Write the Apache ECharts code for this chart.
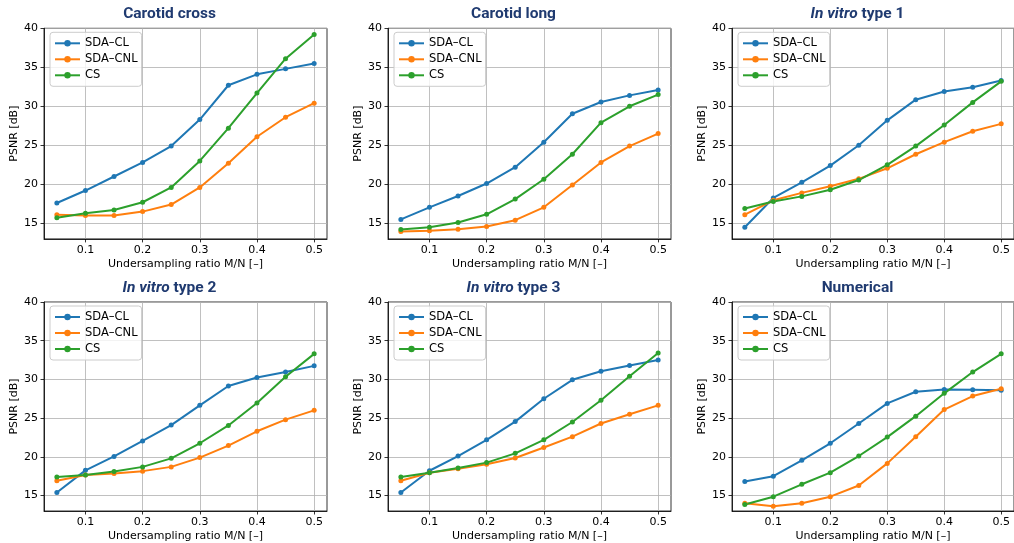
<!DOCTYPE html>
<html><head><meta charset="utf-8">
<script src="https://cdn.jsdelivr.net/npm/echarts@6/dist/echarts.min.js"></script>
<style>html,body{margin:0;padding:0;background:#fff}#c{width:1014px;height:543px}</style>
</head><body><div id="c"></div>
<script>
// ---- data ----
const ratios = [0.05, 0.1, 0.15, 0.2, 0.25, 0.3, 0.35, 0.4, 0.45, 0.5];
const seriesNames = ['SDA–CL', 'SDA–CNL', 'CS'];
const seriesColors = ['#1f77b4', '#ff7f0e', '#2ca02c'];
const xTicks = [0.1, 0.2, 0.3, 0.4, 0.5];
const yTicks = [15, 20, 25, 30, 35, 40];
const xAxisName = 'Undersampling ratio M/N [–]';
const yAxisName = 'PSNR [dB]';

const carotidCrossCL  = [17.6, 19.2, 21.0, 22.8, 24.9, 28.3, 32.7, 34.1, 34.8, 35.5];
const carotidCrossCNL = [16.1, 16.0, 16.0, 16.5, 17.4, 19.6, 22.7, 26.1, 28.6, 30.4];
const carotidCrossCS  = [15.7, 16.3, 16.7, 17.7, 19.6, 23.0, 27.2, 31.7, 36.1, 39.2];

const carotidLongCL  = [15.5, 17.05, 18.5, 20.1, 22.2, 25.4, 29.05, 30.55, 31.4, 32.1];
const carotidLongCNL = [13.95, 14.05, 14.25, 14.6, 15.4, 17.05, 19.9, 22.8, 24.9, 26.5];
const carotidLongCS  = [14.2, 14.5, 15.1, 16.15, 18.1, 20.65, 23.85, 27.9, 30.0, 31.5];

const vitro1CL  = [14.5, 18.25, 20.25, 22.4, 25.0, 28.2, 30.85, 31.9, 32.45, 33.3];
const vitro1CNL = [16.1, 17.95, 18.9, 19.75, 20.7, 22.05, 23.85, 25.4, 26.8, 27.75];
const vitro1CS  = [16.9, 17.8, 18.45, 19.3, 20.55, 22.5, 24.9, 27.6, 30.5, 33.2];

const vitro2CL  = [15.4, 18.25, 20.05, 22.05, 24.1, 26.65, 29.15, 30.25, 30.95, 31.75];
const vitro2CNL = [16.9, 17.65, 17.85, 18.15, 18.7, 19.9, 21.45, 23.3, 24.8, 26.0];
const vitro2CS  = [17.4, 17.65, 18.1, 18.7, 19.8, 21.75, 24.05, 26.95, 30.35, 33.3];

const vitro3CL  = [15.4, 18.2, 20.1, 22.2, 24.55, 27.5, 29.95, 31.05, 31.8, 32.5];
const vitro3CNL = [16.9, 17.95, 18.45, 19.05, 19.85, 21.2, 22.6, 24.3, 25.5, 26.65];
const vitro3CS  = [17.4, 17.95, 18.55, 19.25, 20.45, 22.2, 24.5, 27.3, 30.4, 33.4];

const numericalCL  = [16.8, 17.5, 19.55, 21.75, 24.3, 26.9, 28.4, 28.7, 28.65, 28.6];
const numericalCNL = [14.0, 13.6, 14.0, 14.85, 16.3, 19.15, 22.6, 26.1, 27.85, 28.8];
const numericalCS  = [13.85, 14.85, 16.45, 17.95, 20.1, 22.55, 25.25, 28.2, 30.95, 33.3];

const panelTitles = [
  {plain: 'Carotid cross'},
  {plain: 'Carotid long'},
  {italic: 'In vitro', plain: ' type 1'},
  {italic: 'In vitro', plain: ' type 2'},
  {italic: 'In vitro', plain: ' type 3'},
  {plain: 'Numerical'}
];
const panelData = [
  [carotidCrossCL, carotidCrossCNL, carotidCrossCS],
  [carotidLongCL, carotidLongCNL, carotidLongCS],
  [vitro1CL, vitro1CNL, vitro1CS],
  [vitro2CL, vitro2CNL, vitro2CS],
  [vitro3CL, vitro3CNL, vitro3CS],
  [numericalCL, numericalCNL, numericalCS]
];

// ---- layout ----
const lefts = [44, 388, 732];
const tops = [28.3, 302];
const W = 283, H = 210.6;
const FONT = 'DejaVu Sans';

const grid = [], xAxis = [], yAxis = [], series = [], legend = [], graphic = [];
for (let p = 0; p < 6; p++) {
  const gl = lefts[p % 3], gt = tops[Math.floor(p / 3)];
  grid.push({left: gl, top: gt, width: W, height: H, show: true,
    borderColor: '#000', borderWidth: 0.8, backgroundColor: 'transparent', containLabel: false});
  xAxis.push({type: 'value', gridIndex: p, min: 0.0275, max: 0.5225,
    name: xAxisName, nameLocation: 'middle', nameGap: 20,
    nameTextStyle: {fontFamily: FONT, fontSize: 11, color: '#000'},
    axisLine: {show: true, onZero: false, lineStyle: {color: '#000', width: 0.8}},
    axisTick: {show: true, length: 3.5, lineStyle: {color: '#000', width: 0.8}, customValues: xTicks},
    axisLabel: {customValues: xTicks, margin: 6, fontFamily: FONT, fontSize: 11, color: '#000',
      formatter: v => v.toFixed(1)},
    splitLine: {show: true, lineStyle: {color: '#b0b0b0', width: 0.8}}
  });
  yAxis.push({type: 'value', gridIndex: p, min: 13, max: 40,
    name: yAxisName, nameLocation: 'middle', nameGap: 20, nameRotate: 90,
    nameTextStyle: {fontFamily: FONT, fontSize: 11, color: '#000'},
    axisLine: {show: true, onZero: false, lineStyle: {color: '#000', width: 0.8}},
    axisTick: {show: true, length: 3.5, lineStyle: {color: '#000', width: 0.8}, customValues: yTicks},
    axisLabel: {customValues: yTicks, margin: 6, fontFamily: FONT, fontSize: 11, color: '#000'},
    splitLine: {show: true, lineStyle: {color: '#b0b0b0', width: 0.8}}
  });
  for (let s = 0; s < 3; s++) {
    series.push({type: 'line', name: seriesNames[s], xAxisIndex: p, yAxisIndex: p,
      data: ratios.map((r, i) => [r, panelData[p][s][i]]),
      symbol: 'circle', symbolSize: 5, showSymbol: true,
      color: seriesColors[s], lineStyle: {width: 2, color: seriesColors[s]},
      itemStyle: {color: seriesColors[s]}, clip: true, animation: false});
  }
  legend.push({data: seriesNames, orient: 'vertical', left: gl + 6, top: gt + 4,
    itemWidth: 25, itemHeight: 8, itemGap: 2, padding: 4,
    borderColor: '#ccc', borderWidth: 1, borderRadius: 3,
    backgroundColor: 'rgba(255,255,255,0.8)',
    textStyle: {fontFamily: FONT, fontSize: 11.5, lineHeight: 14, color: '#000'}});
  const t = panelTitles[p];
  const txt = (t.italic ? '{i|' + t.italic + '}' : '') + '{b|' + t.plain + '}';
  graphic.push({type: 'text', x: gl + W / 2 - 16, y: gt - 13.8, z: 10,
    style: {text: txt, align: 'center', verticalAlign: 'middle',
      rich: {
        i: {fontFamily: 'Roboto', fontWeight: 'bold', fontStyle: 'italic', fontSize: 15.5, fill: '#1f3a70'},
        b: {fontFamily: 'Roboto', fontWeight: 'bold', fontSize: 15.5, fill: '#1f3a70'}
      }}});
}

const chart = echarts.init(document.getElementById('c'), null, {renderer: 'canvas'});
chart.setOption({animation: false, backgroundColor: '#fff', grid, xAxis, yAxis, series, legend, graphic});
</script></body></html>
